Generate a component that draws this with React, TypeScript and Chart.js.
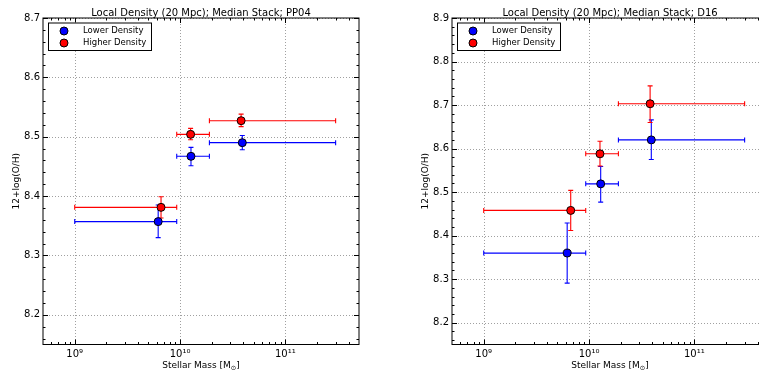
import React, { useEffect, useRef } from "react";
import { Chart, registerables } from "chart.js";
Chart.register(...registerables);

// ---------- data ----------
const massTicks = [1e9, 1e10, 1e11];
const massTickLabels = ["10⁹", "10¹⁰", "10¹¹"];
const massMin = 5e8;
const massMax = 5e11;
const seriesNames = ["Lower Density", "Higher Density"];
const seriesColors = ["#0000ff", "#ff0000"];
const massBinLo = [1.0e9, 9.3e9, 1.9e10];
const massBinHi = [9.3e9, 1.9e10, 3.0e11];

// PP04 panel
const pp04Title = "Local Density (20 Mpc); Median Stack; PP04";
const pp04YTicks = [8.2, 8.3, 8.4, 8.5, 8.6, 8.7];
const pp04LowMass = [6.2e9, 1.27e10, 3.9e10];
const pp04LowOH = [8.357, 8.467, 8.49];
const pp04LowOHLo = [8.33, 8.451, 8.478];
const pp04LowOHHi = [8.385, 8.482, 8.502];
const pp04HighMass = [6.6e9, 1.26e10, 3.8e10];
const pp04HighOH = [8.381, 8.504, 8.527];
const pp04HighOHLo = [8.363, 8.495, 8.517];
const pp04HighOHHi = [8.399, 8.514, 8.538];

// D16 panel
const d16Title = "Local Density (20 Mpc); Median Stack; D16";
const d16YTicks = [8.2, 8.3, 8.4, 8.5, 8.6, 8.7, 8.8, 8.9];
const d16LowMass = [6.2e9, 1.29e10, 3.9e10];
const d16LowOH = [8.36, 8.519, 8.62];
const d16LowOHLo = [8.291, 8.477, 8.575];
const d16LowOHHi = [8.429, 8.559, 8.666];
const d16HighMass = [6.7e9, 1.27e10, 3.8e10];
const d16HighOH = [8.458, 8.588, 8.703];
const d16HighOHLo = [8.412, 8.56, 8.66];
const d16HighOHHi = [8.504, 8.617, 8.744];

const FONT = '"DejaVu Sans", "Liberation Sans", sans-serif';
const CANVAS_H = 372;
const AREA_TOP = 18;
const AREA_BOTTOM = 344.5;

type Series = {
  name: string;
  color: string;
  x: number[];
  xlo: number[];
  xhi: number[];
  y: number[];
  ylo: number[];
  yhi: number[];
};

type PanelProps = {
  title: string;
  yMin: number;
  yMax: number;
  yTicks: number[];
  series: Series[];
  width: number;
  areaLeft: number;
  areaRight: number;
  left: number;
};

function Panel(props: PanelProps) {
  const ref = useRef<HTMLCanvasElement | null>(null);
  useEffect(() => {
    const canvas = ref.current;
    if (!canvas) return;
    const { title, yMin, yMax, yTicks, series, width, areaLeft, areaRight } = props;

    const overlay = {
      id: "overlay",
      beforeDatasetsDraw(chart: any) {
        const ctx = chart.ctx as CanvasRenderingContext2D;
        const a = chart.chartArea;
        const xs = chart.scales.x;
        const ys = chart.scales.y;
        ctx.save();
        // dotted grid
        ctx.strokeStyle = "#a0a0a0";
        ctx.lineWidth = 1;
        ctx.setLineDash([1, 2]);
        massTicks.forEach((v) => {
          const px = Math.round(xs.getPixelForValue(v)) + 0.5;
          ctx.beginPath();
          ctx.moveTo(px, a.top);
          ctx.lineTo(px, a.bottom);
          ctx.stroke();
        });
        yTicks.forEach((v) => {
          const py = Math.round(ys.getPixelForValue(v)) + 0.5;
          ctx.beginPath();
          ctx.moveTo(a.left, py);
          ctx.lineTo(a.right, py);
          ctx.stroke();
        });
        ctx.setLineDash([]);
        // error bars
        const cap = 2.5;
        series.forEach((s) => {
          ctx.strokeStyle = s.color;
          ctx.lineWidth = 1.1;
          s.x.forEach((xv, i) => {
            const px = xs.getPixelForValue(xv);
            const py = ys.getPixelForValue(s.y[i]);
            const x0 = xs.getPixelForValue(s.xlo[i]);
            const x1 = xs.getPixelForValue(s.xhi[i]);
            const y0 = ys.getPixelForValue(s.ylo[i]);
            const y1 = ys.getPixelForValue(s.yhi[i]);
            ctx.beginPath();
            ctx.moveTo(x0, py);
            ctx.lineTo(x1, py);
            ctx.moveTo(x0, py - cap);
            ctx.lineTo(x0, py + cap);
            ctx.moveTo(x1, py - cap);
            ctx.lineTo(x1, py + cap);
            ctx.moveTo(px, y0);
            ctx.lineTo(px, y1);
            ctx.moveTo(px - cap, y0);
            ctx.lineTo(px + cap, y0);
            ctx.moveTo(px - cap, y1);
            ctx.lineTo(px + cap, y1);
            ctx.stroke();
          });
        });
        ctx.restore();
      },
      afterDatasetsDraw(chart: any) {
        const ctx = chart.ctx as CanvasRenderingContext2D;
        const a = chart.chartArea;
        const xs = chart.scales.x;
        const ys = chart.scales.y;
        ctx.save();
        ctx.strokeStyle = "#000";
        ctx.lineWidth = 1;
        // tick marks on all four sides, pointing inward
        const major = 5;
        const minor = 2.5;
        ctx.beginPath();
        for (let k = 8; k <= 11; k++) {
          for (let m = 1; m <= 9; m++) {
            const v = m * Math.pow(10, k);
            if (v <= massMin || v >= massMax) continue;
            const len = m === 1 ? major : minor;
            const px = Math.round(xs.getPixelForValue(v)) + 0.5;
            ctx.moveTo(px, a.bottom);
            ctx.lineTo(px, a.bottom - len);
            ctx.moveTo(px, a.top);
            ctx.lineTo(px, a.top + len);
          }
        }
        const i0 = Math.ceil(yMin * 50 - 1e-6);
        const i1 = Math.floor(yMax * 50 + 1e-6);
        for (let i = i0; i <= i1; i++) {
          const v = i / 50;
          const len = i % 5 === 0 ? major : minor;
          const py = Math.round(ys.getPixelForValue(v)) + 0.5;
          ctx.moveTo(a.left, py);
          ctx.lineTo(a.left + len, py);
          ctx.moveTo(a.right, py);
          ctx.lineTo(a.right - len, py);
        }
        ctx.stroke();
        // frame
        ctx.strokeRect(a.left, a.top, a.right - a.left, a.bottom - a.top);

        // title
        ctx.fillStyle = "#000";
        ctx.font = "10px " + FONT;
        ctx.textAlign = "center";
        ctx.textBaseline = "alphabetic";
        const cx = (a.left + a.right) / 2;
        const vis = Math.min(a.right, chart.width);
        ctx.fillText(title, cx, 15.5);

        // x-axis title with subscript
        const mainFont = "9px " + FONT;
        const subFont = "6.5px " + FONT;
        const partA = "Stellar Mass [M";
        const partB = "⊙";
        const partC = "]";
        ctx.font = mainFont;
        const wA = ctx.measureText(partA).width;
        const wC = ctx.measureText(partC).width;
        ctx.font = subFont;
        const wB = ctx.measureText(partB).width;
        let tx = cx - (wA + wB + wC) / 2;
        const ty = 368;
        ctx.textAlign = "left";
        ctx.font = mainFont;
        ctx.fillText(partA, tx, ty);
        tx += wA;
        ctx.font = subFont;
        ctx.fillText(partB, tx, ty + 2);
        tx += wB;
        ctx.font = mainFont;
        ctx.fillText(partC, tx, ty);

        // y-axis title
        ctx.save();
        ctx.translate(a.left - 26, (a.top + a.bottom) / 2);
        ctx.rotate(-Math.PI / 2);
        ctx.textAlign = "center";
        ctx.textBaseline = "middle";
        ctx.font = "9px " + FONT;
        ctx.fillText("12+log(O/H)", 0, 0);
        ctx.restore();

        // legend
        const bx = a.left + 5;
        const by = 22.5;
        ctx.fillStyle = "#fff";
        ctx.fillRect(bx, by, 103, 27.5);
        ctx.strokeStyle = "#000";
        ctx.lineWidth = 1;
        ctx.strokeRect(bx + 0.5, by + 0.5, 103, 27.5);
        series.forEach((s, i) => {
          const ly = 31 + i * 12;
          ctx.beginPath();
          ctx.arc(a.left + 21, ly, 4, 0, Math.PI * 2);
          ctx.fillStyle = s.color;
          ctx.fill();
          ctx.strokeStyle = "#000";
          ctx.stroke();
          ctx.fillStyle = "#000";
          ctx.font = "8.5px " + FONT;
          ctx.textAlign = "left";
          ctx.textBaseline = "middle";
          ctx.fillText(s.name, a.left + 40, ly);
        });
        void vis;
        ctx.restore();
      },
    };

    const chart = new Chart(canvas, {
      type: "scatter",
      data: {
        datasets: series.map((s, si) => ({
          label: s.name,
          data: s.x.map((xv, i) => ({ x: xv, y: s.y[i] })),
          backgroundColor: s.color,
          borderColor: "#000",
          borderWidth: 1,
          pointRadius: 4,
          pointHoverRadius: 4,
          order: series.length - si,
        })),
      },
      options: {
        responsive: false,
        animation: false,
        devicePixelRatio: 1,
        events: [],
        layout: { padding: { top: AREA_TOP, right: width - areaRight, left: 0, bottom: 0 } },
        plugins: {
          legend: { display: false },
          title: { display: false },
          tooltip: { enabled: false },
        },
        scales: {
          x: {
            type: "logarithmic",
            min: massMin,
            max: massMax,
            grid: { display: false, drawTicks: false },
            border: { display: false },
            afterBuildTicks: (s: any) => {
              s.ticks = massTicks.map((v) => ({ value: v }));
            },
            afterFit: (s: any) => {
              s.height = CANVAS_H - AREA_BOTTOM;
            },
            ticks: {
              autoSkip: false,
              maxRotation: 0,
              padding: 4,
              color: "#000",
              font: { family: FONT, size: 10 },
              callback: (_v: any, i: number) => massTickLabels[i],
            },
          },
          y: {
            type: "linear",
            min: yMin,
            max: yMax,
            grid: { display: false, drawTicks: false },
            border: { display: false },
            afterBuildTicks: (s: any) => {
              s.ticks = yTicks.map((v) => ({ value: v }));
            },
            afterFit: (s: any) => {
              s.width = areaLeft;
            },
            ticks: {
              autoSkip: false,
              padding: 3,
              color: "#000",
              font: { family: FONT, size: 10 },
              callback: (v: any) => Number(v).toFixed(1),
            },
          },
        },
      },
      plugins: [overlay],
    } as any);
    return () => chart.destroy();
  }, []);
  return (
    <canvas
      ref={ref}
      width={props.width}
      height={CANVAS_H}
      style={{ position: "absolute", left: props.left, top: 0, width: props.width, height: CANVAS_H, display: "block" }}
    />
  );
}

export default function App() {
  const pp04Series: Series[] = [
    { name: seriesNames[0], color: seriesColors[0], x: pp04LowMass, xlo: massBinLo, xhi: massBinHi, y: pp04LowOH, ylo: pp04LowOHLo, yhi: pp04LowOHHi },
    { name: seriesNames[1], color: seriesColors[1], x: pp04HighMass, xlo: massBinLo, xhi: massBinHi, y: pp04HighOH, ylo: pp04HighOHLo, yhi: pp04HighOHHi },
  ];
  const d16Series: Series[] = [
    { name: seriesNames[0], color: seriesColors[0], x: d16LowMass, xlo: massBinLo, xhi: massBinHi, y: d16LowOH, ylo: d16LowOHLo, yhi: d16LowOHHi },
    { name: seriesNames[1], color: seriesColors[1], x: d16HighMass, xlo: massBinLo, xhi: massBinHi, y: d16HighOH, ylo: d16HighOHLo, yhi: d16HighOHHi },
  ];
  return (
    <div style={{ position: "absolute", left: 0, top: 0, width: 759, height: CANVAS_H, overflow: "hidden", background: "#fff" }}>
      <Panel title={pp04Title} yMin={8.15} yMax={8.7} yTicks={pp04YTicks} series={pp04Series} width={380} areaLeft={43} areaRight={359} left={0} />
      <Panel title={d16Title} yMin={8.15} yMax={8.9} yTicks={d16YTicks} series={d16Series} width={420} areaLeft={72} areaRight={388} left={380} />
    </div>
  );
}
